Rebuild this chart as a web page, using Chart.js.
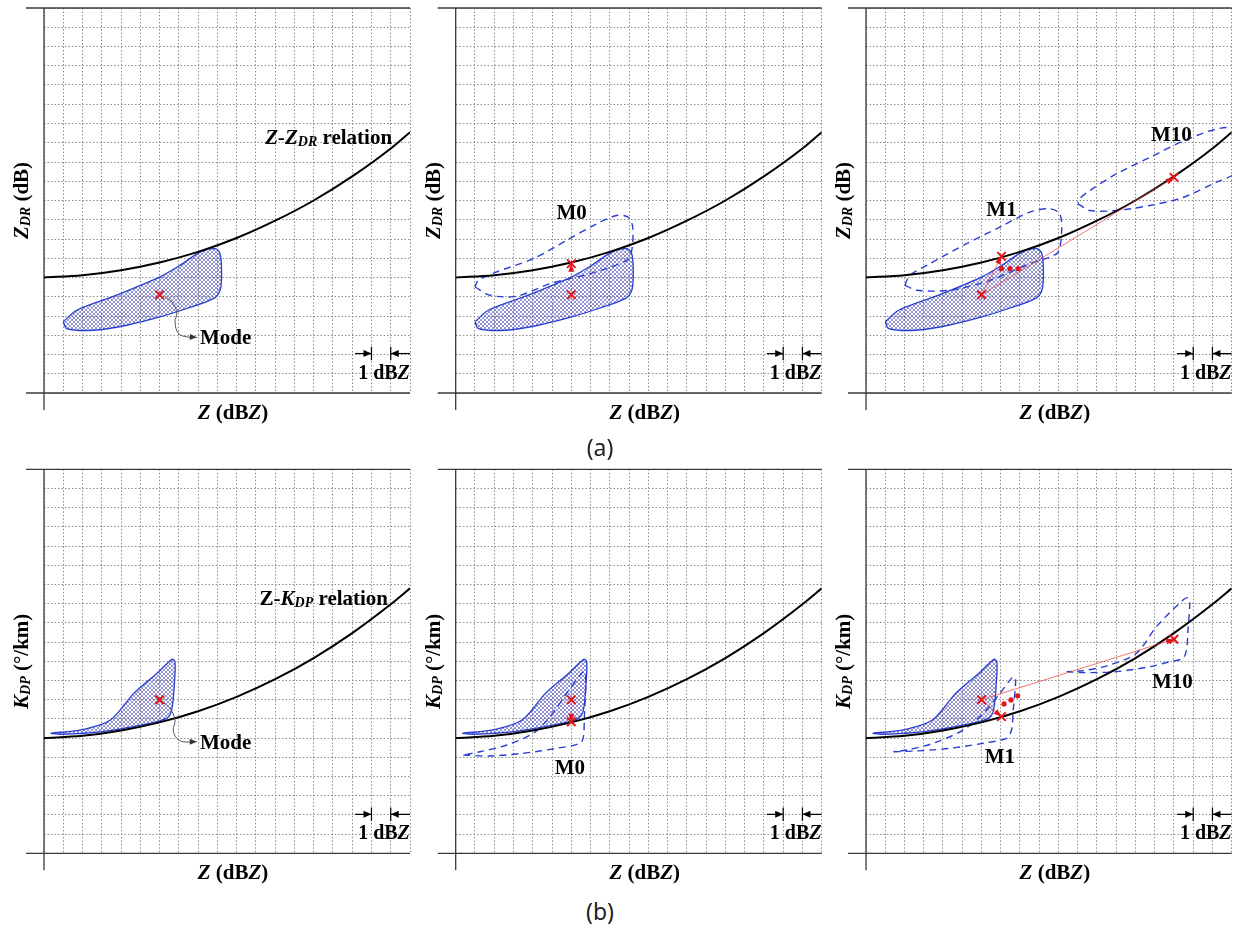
<!DOCTYPE html>
<html>
<head>
<meta charset="utf-8">
<style>
  body { margin: 0; background: #fff; width: 1244px; height: 929px; position: relative; overflow: hidden; }
  canvas { position: absolute; }
  .cap { position: absolute; width: 60px; text-align: center; line-height: 1;
         font-family: "Noto Sans", sans-serif; font-size: 23px; color: #222; }
</style>
<script src="https://cdn.jsdelivr.net/npm/chart.js"></script>
</head>
<body>
<canvas id="a1" width="430" height="430" style="left:0;top:0"></canvas>
<canvas id="a2" width="435" height="430" style="left:405px;top:0"></canvas>
<canvas id="a3" width="424" height="430" style="left:820px;top:0"></canvas>
<canvas id="b1" width="430" height="440" style="left:0;top:450px"></canvas>
<canvas id="b2" width="435" height="440" style="left:405px;top:450px"></canvas>
<canvas id="b3" width="424" height="440" style="left:820px;top:450px"></canvas>
<div class="cap" style="left:570px;top:436px">(a)</div>
<div class="cap" style="left:570px;top:900px">(b)</div>

<script>
  // grid units: 1 cell = 1 dBZ on x, 1 cell on y (schematic, no tick values)
  // Z-ZDR relation
  const zdrCurveX = [0, 2, 4, 6, 8, 10, 12, 14, 16, 18, 19];
  const zdrCurveY = [6.0, 6.12, 6.38, 6.78, 7.33, 8.05, 8.95, 10.0, 11.25, 12.7, 13.55];
  // Z-KDP relation
  const kdpCurveX = [0, 2, 4, 6, 8, 10, 12, 14, 16, 18, 19];
  const kdpCurveY = [6.0, 6.12, 6.4, 6.82, 7.4, 8.15, 9.07, 10.17, 11.47, 12.97, 13.8];

  // observed distribution (hatched) and model distributions (dashed)
  const zdrObsX = [1.0, 1.7, 3.77, 6.02, 7.06, 8.1, 8.88, 9.14, 9.22, 9.14, 8.79, 7.41, 6.02, 4.29, 2.56, 1.18, 1.0];
  const zdrObsY = [3.7, 4.3, 5.08, 6.03, 6.63, 7.32, 7.5, 7.24, 6.2, 5.34, 4.9, 4.39, 3.95, 3.52, 3.26, 3.35, 3.7];
  const zdrM0X = [1.0, 1.78, 3.17, 4.9, 6.97, 8.88, 9.14, 9.19, 8.96, 8.36, 7.32, 5.76, 4.03, 2.13, 1.17, 1.0];
  const zdrM0Y = [5.51, 5.08, 5.03, 5.68, 6.2, 6.89, 7.41, 8.62, 9.13, 9.22, 8.79, 7.93, 6.98, 6.29, 5.85, 5.51];
  const zdrM1X = [2.02, 2.63, 4.36, 6.44, 8.52, 9.55, 9.98, 10.16, 10.07, 9.55, 8.52, 6.96, 5.23, 3.32, 2.28, 2.02];
  const zdrM1Y = [5.6, 5.34, 5.34, 5.85, 6.72, 7.06, 7.32, 8.27, 9.31, 9.57, 9.4, 8.62, 7.76, 6.72, 6.11, 5.6];
  const zdrM10X = [11.02, 11.63, 13.0, 14.75, 16.5, 18.2, 19.0, 19.7, 19.7, 19.2, 18.2, 16.5, 14.75, 13.0, 11.63, 11.1, 11.02];
  const zdrM10Y = [9.83, 9.48, 9.48, 9.74, 10.17, 10.95, 11.3, 12.0, 13.2, 13.75, 13.71, 13.1, 12.24, 11.38, 10.52, 10.09, 9.83];

  const kdpObsX = [0.34, 2.07, 3.45, 4.66, 5.87, 6.65, 6.8, 6.77, 6.63, 6.37, 5.16, 2.92, 0.85, 0.34];
  const kdpObsY = [6.25, 6.46, 6.94, 8.33, 9.38, 10.1, 9.98, 8.85, 7.47, 7.03, 6.7, 6.32, 6.2, 6.25];
  const kdpM0X = [0.4, 1.78, 3.51, 5.24, 6.45, 6.63, 6.68, 6.75, 6.71, 6.54, 5.76, 4.9, 4.03, 2.65, 1.26, 0.4];
  const kdpM0Y = [5.12, 5.07, 5.21, 5.47, 5.73, 6.07, 7.11, 8.85, 9.46, 9.38, 8.33, 7.11, 6.25, 5.64, 5.29, 5.12];
  const kdpM1X = [1.42, 2.63, 4.36, 6.09, 7.3, 7.56, 7.65, 7.77, 7.74, 7.56, 6.96, 6.09, 5.05, 3.49, 2.11, 1.42];
  const kdpM1Y = [5.29, 5.33, 5.47, 5.73, 5.99, 6.42, 7.46, 8.85, 9.17, 9.11, 8.33, 7.29, 6.42, 5.73, 5.38, 5.29];
  const kdpM10X = [10.42, 11.28, 13.02, 14.75, 15.78, 16.47, 16.65, 16.73, 16.82, 16.73, 16.47, 15.09, 14.05, 12.67, 11.28, 10.42];
  const kdpM10Y = [9.46, 9.41, 9.46, 9.72, 9.98, 10.16, 10.59, 11.63, 13.02, 13.31, 13.19, 11.8, 10.42, 9.81, 9.51, 9.46];

  // modes: observed, M0, M1, M10
  const zdrModeX = [6.0, 6.0, 7.04, 16.0];
  const zdrModeY = [5.1, 6.72, 7.1, 11.2];
  const kdpModeX = [6.0, 6.0, 7.04, 16.0];
  const kdpModeY = [8.0, 6.85, 7.12, 11.15];

  // "..." between M1 and M10
  const zdrDotsX = [7.04, 7.48, 7.91];
  const zdrDotsY = [6.46, 6.46, 6.46];
  const kdpDotsX = [7.17, 7.53, 7.88];
  const kdpDotsY = [7.78, 7.99, 8.2];

  // pointer from the mode to the "Mode" label
  const zdrPtrX = [6.3, 6.71, 6.89, 6.8, 6.98, 7.41, 7.93];
  const zdrPtrY = [5.0, 4.65, 4.13, 3.7, 3.09, 2.92, 2.89];
  const kdpPtrX = [6.2, 6.54, 6.8, 6.71, 6.89, 7.23, 7.93];
  const kdpPtrY = [7.85, 7.55, 6.94, 6.42, 5.99, 5.81, 5.81];

  // 1 dBZ scale bar
  const scaleTickX = [17, 18];
  const scaleArrowFromX = [16.15, 19.0];

  const modelNames = ['M0', 'M1', 'M10'];

  const SERIF = '"Liberation Serif","Times New Roman",serif';
  const B = 'bold 21px', BI = 'italic bold 21px', SUB = 'italic bold 14px';
  const RED = '#e3161c', BLUE = '#2a3fd2';

  const P = (xs, ys) => xs.map((x, i) => ({ x, y: ys[i] }));

  function rich(ctx, parts, x, y, align) {
    let w = 0;
    parts.forEach(p => { ctx.font = p.f + ' ' + SERIF; p.w = ctx.measureText(p.t).width; w += p.w; });
    let cx = align === 'right' ? x - w : align === 'left' ? x : x - w / 2;
    ctx.textAlign = 'left';
    ctx.textBaseline = 'alphabetic';
    ctx.fillStyle = '#000';
    parts.forEach(p => { ctx.font = p.f + ' ' + SERIF; ctx.fillText(p.t, cx, y + 7 + (p.dy || 0)); cx += p.w; });
  }

  const xTitle = [{ t: 'Z', f: BI }, { t: ' (dB', f: B }, { t: 'Z', f: BI }, { t: ')', f: B }];
  const yZdr = [{ t: 'Z', f: BI }, { t: 'DR', f: SUB, dy: 2 }, { t: ' (dB)', f: B }];
  const yKdp = [{ t: 'K', f: BI }, { t: 'DP', f: SUB, dy: 2 }, { t: ' (°/km)', f: B }];
  const relZdr = [{ t: 'Z-Z', f: BI }, { t: 'DR', f: SUB, dy: 2 }, { t: ' relation', f: B }];
  const relKdp = [{ t: 'Z-', f: B }, { t: 'K', f: BI }, { t: 'DP', f: SUB, dy: 2 }, { t: ' relation', f: B }];
  const dbz = [{ t: '1 dB', f: 'bold 20px' }, { t: 'Z', f: 'italic bold 20px' }];
  const txt = s => [{ t: s, f: B }];

  function buildPanel(id, pad, cfg) {
    const cv = document.getElementById(id);
    const tile = document.createElement('canvas');
    tile.width = tile.height = 4;
    const t = tile.getContext('2d');
    t.strokeStyle = 'rgba(60,60,170,0.55)';
    t.lineWidth = 1;
    t.beginPath(); t.moveTo(0, 0); t.lineTo(4, 4); t.moveTo(4, 0); t.lineTo(0, 4); t.stroke();
    const hatch = cv.getContext('2d').createPattern(tile, 'repeat');

    const ds = []; // bottom to top
    ds.push({ data: cfg.obs, borderColor: BLUE, borderWidth: 1.3, backgroundColor: hatch, fill: 'shape', tension: 0.3 });
    cfg.dashed.forEach(d => ds.push({ data: d, borderColor: BLUE, borderWidth: 1.4, borderDash: [7, 5], tension: 0.3 }));
    ds.push({ data: cfg.curve, borderColor: '#000', borderWidth: 2, cubicInterpolationMode: 'monotone' });
    if (cfg.ptr) ds.push({ data: cfg.ptr, borderColor: '#555', borderWidth: 1, tension: 0.4,
                            arrow: { len: 7, half: 3, color: '#333' } });
    cfg.links.forEach(l => ds.push({ data: l.data, borderColor: 'rgba(232,70,70,0.75)', borderWidth: 1,
                                     borderDash: l.dash || [], tension: 0, arrow: { len: 8, half: 3, color: RED } }));
    if (cfg.dots) ds.push({ data: cfg.dots, showLine: false, pointRadius: 2.6, pointBackgroundColor: RED,
                            pointBorderColor: RED, pointBorderWidth: 0 });
    ds.push({ data: cfg.modes, showLine: false, pointStyle: 'crossRot', pointRadius: 6,
              pointBorderColor: RED, pointBorderWidth: 2 });
    // 1 dBZ scale bar
    const ay = cfg.barY;
    scaleTickX.forEach((x, i) => {
      ds.push({ data: [{ x, y: ay - 0.35 }, { x, y: ay + 0.35 }], borderColor: '#000', borderWidth: 1.2, tension: 0 });
      ds.push({ data: [{ x: scaleArrowFromX[i], y: ay }, { x, y: ay }], borderColor: '#000', borderWidth: 1.2,
                tension: 0, arrow: { len: 8, half: 3.5, color: '#000' } });
    });

    const deco = {
      id: 'deco' + id,
      beforeDatasetsDraw(chart) {
        const { ctx, chartArea: a } = chart;
        ctx.save();
        ctx.strokeStyle = '#3a3a3a';
        ctx.lineWidth = 1.3;
        ctx.beginPath();
        ctx.moveTo(a.left - 18, a.bottom); ctx.lineTo(a.right, a.bottom);
        ctx.moveTo(a.left - 18, a.top); ctx.lineTo(a.right, a.top);
        ctx.moveTo(a.left, a.top); ctx.lineTo(a.left, a.bottom + 17);
        ctx.stroke();
        ctx.restore();
      },
      afterDatasetsDraw(chart) {
        const { ctx, chartArea: a, scales: { x: sx, y: sy } } = chart;
        ctx.save();
        chart.data.datasets.forEach((d, i) => {
          if (!d.arrow) return;
          const pts = chart.getDatasetMeta(i).data;
          const p2 = pts[pts.length - 1], p1 = pts[pts.length - 2];
          const ang = Math.atan2(p2.y - p1.y, p2.x - p1.x);
          ctx.save();
          ctx.translate(p2.x, p2.y);
          ctx.rotate(ang);
          ctx.fillStyle = d.arrow.color;
          ctx.beginPath();
          ctx.moveTo(0, 0); ctx.lineTo(-d.arrow.len, -d.arrow.half); ctx.lineTo(-d.arrow.len, d.arrow.half);
          ctx.closePath(); ctx.fill();
          ctx.restore();
        });
        cfg.texts.forEach(tx => rich(ctx, tx.parts, sx.getPixelForValue(tx.x), sy.getPixelForValue(tx.y), tx.align));
        rich(ctx, xTitle, (a.left + a.right) / 2 + 6, a.bottom + 19, 'center');
        ctx.translate(a.left - 23, (a.top + a.bottom) / 2);
        ctx.rotate(-Math.PI / 2);
        rich(ctx, cfg.yTitle, 0, 0, 'center');
        ctx.restore();
      }
    };

    const gridScale = (max, fitKey) => ({
      type: 'linear', min: 0, max,
      ticks: { display: false, stepSize: 1 },
      grid: { color: '#8c8c8c', lineWidth: 1, drawTicks: false },
      border: { display: false, dash: [1.5, 2] },
      afterFit(s) { s[fitKey] = 0; }
    });

    new Chart(cv, {
      type: 'line',
      data: { datasets: ds.reverse() },
      options: {
        responsive: false,
        animation: false,
        devicePixelRatio: 1,
        layout: { padding: pad },
        elements: { point: { radius: 0 } },
        plugins: { legend: { display: false }, tooltip: { enabled: false } },
        scales: { x: gridScale(19, 'height'), y: gridScale(20, 'width') }
      },
      plugins: [deco]
    });
  }

  const padA = (l, r) => ({ left: l, right: r, top: 7, bottom: 37 });
  const padB = (l, r) => ({ left: l, right: r, top: 19.3, bottom: 36.7 });
  const zm = P(zdrModeX, zdrModeY), km = P(kdpModeX, kdpModeY);

  buildPanel('a1', padA(44, 20), {
    obs: P(zdrObsX, zdrObsY), dashed: [], curve: P(zdrCurveX, zdrCurveY),
    ptr: P(zdrPtrX, zdrPtrY), links: [], modes: [zm[0]], barY: 2.05, yTitle: yZdr,
    texts: [
      { x: 18.07, y: 13.28, parts: relZdr, align: 'right' },
      { x: 8.1, y: 2.9, parts: txt('Mode'), align: 'left' },
      { x: 17.65, y: 1.1, parts: dbz, align: 'center' }
    ]
  });
  buildPanel('a2', padA(50.7, 18.3), {
    obs: P(zdrObsX, zdrObsY), dashed: [P(zdrM0X, zdrM0Y)], curve: P(zdrCurveX, zdrCurveY),
    links: [{ data: [zm[0], zm[1]], dash: [2, 2] }], modes: [zm[0], zm[1]], barY: 2.05, yTitle: yZdr,
    texts: [
      { x: 6.02, y: 9.4, parts: txt(modelNames[0]), align: 'center' },
      { x: 17.65, y: 1.1, parts: dbz, align: 'center' }
    ]
  });
  buildPanel('a3', padA(46, 12.3), {
    obs: P(zdrObsX, zdrObsY), dashed: [P(zdrM1X, zdrM1Y), P(zdrM10X, zdrM10Y)], curve: P(zdrCurveX, zdrCurveY),
    links: [{ data: [zm[0], zm[2]] }, { data: [zm[0], zm[3]] }], dots: P(zdrDotsX, zdrDotsY),
    modes: [zm[0], zm[2], zm[3]], barY: 2.05, yTitle: yZdr,
    texts: [
      { x: 7.04, y: 9.57, parts: txt(modelNames[1]), align: 'center' },
      { x: 15.87, y: 13.46, parts: txt(modelNames[2]), align: 'center' },
      { x: 17.65, y: 1.1, parts: dbz, align: 'center' }
    ]
  });
  buildPanel('b1', padB(44, 20), {
    obs: P(kdpObsX, kdpObsY), dashed: [], curve: P(kdpCurveX, kdpCurveY),
    ptr: P(kdpPtrX, kdpPtrY), links: [], modes: [km[0]], barY: 2.03, yTitle: yKdp,
    texts: [
      { x: 17.86, y: 13.28, parts: relKdp, align: 'right' },
      { x: 8.1, y: 5.8, parts: txt('Mode'), align: 'left' },
      { x: 17.65, y: 1.09, parts: dbz, align: 'center' }
    ]
  });
  buildPanel('b2', padB(50.7, 18.3), {
    obs: P(kdpObsX, kdpObsY), dashed: [P(kdpM0X, kdpM0Y)], curve: P(kdpCurveX, kdpCurveY),
    links: [{ data: [km[0], km[1]], dash: [2, 2] }], modes: [km[0], km[1]], barY: 2.03, yTitle: yKdp,
    texts: [
      { x: 5.93, y: 4.51, parts: txt(modelNames[0]), align: 'center' },
      { x: 17.65, y: 1.09, parts: dbz, align: 'center' }
    ]
  });
  buildPanel('b3', padB(46, 12.3), {
    obs: P(kdpObsX, kdpObsY), dashed: [P(kdpM1X, kdpM1Y), P(kdpM10X, kdpM10Y)], curve: P(kdpCurveX, kdpCurveY),
    links: [{ data: [km[0], km[2]] }, { data: [km[0], km[3]] }], dots: P(kdpDotsX, kdpDotsY),
    modes: [km[0], km[2], km[3]], barY: 2.03, yTitle: yKdp,
    texts: [
      { x: 6.96, y: 5.07, parts: txt(modelNames[1]), align: 'center' },
      { x: 15.92, y: 8.99, parts: txt(modelNames[2]), align: 'center' },
      { x: 17.65, y: 1.09, parts: dbz, align: 'center' }
    ]
  });
</script>
</body>
</html>
